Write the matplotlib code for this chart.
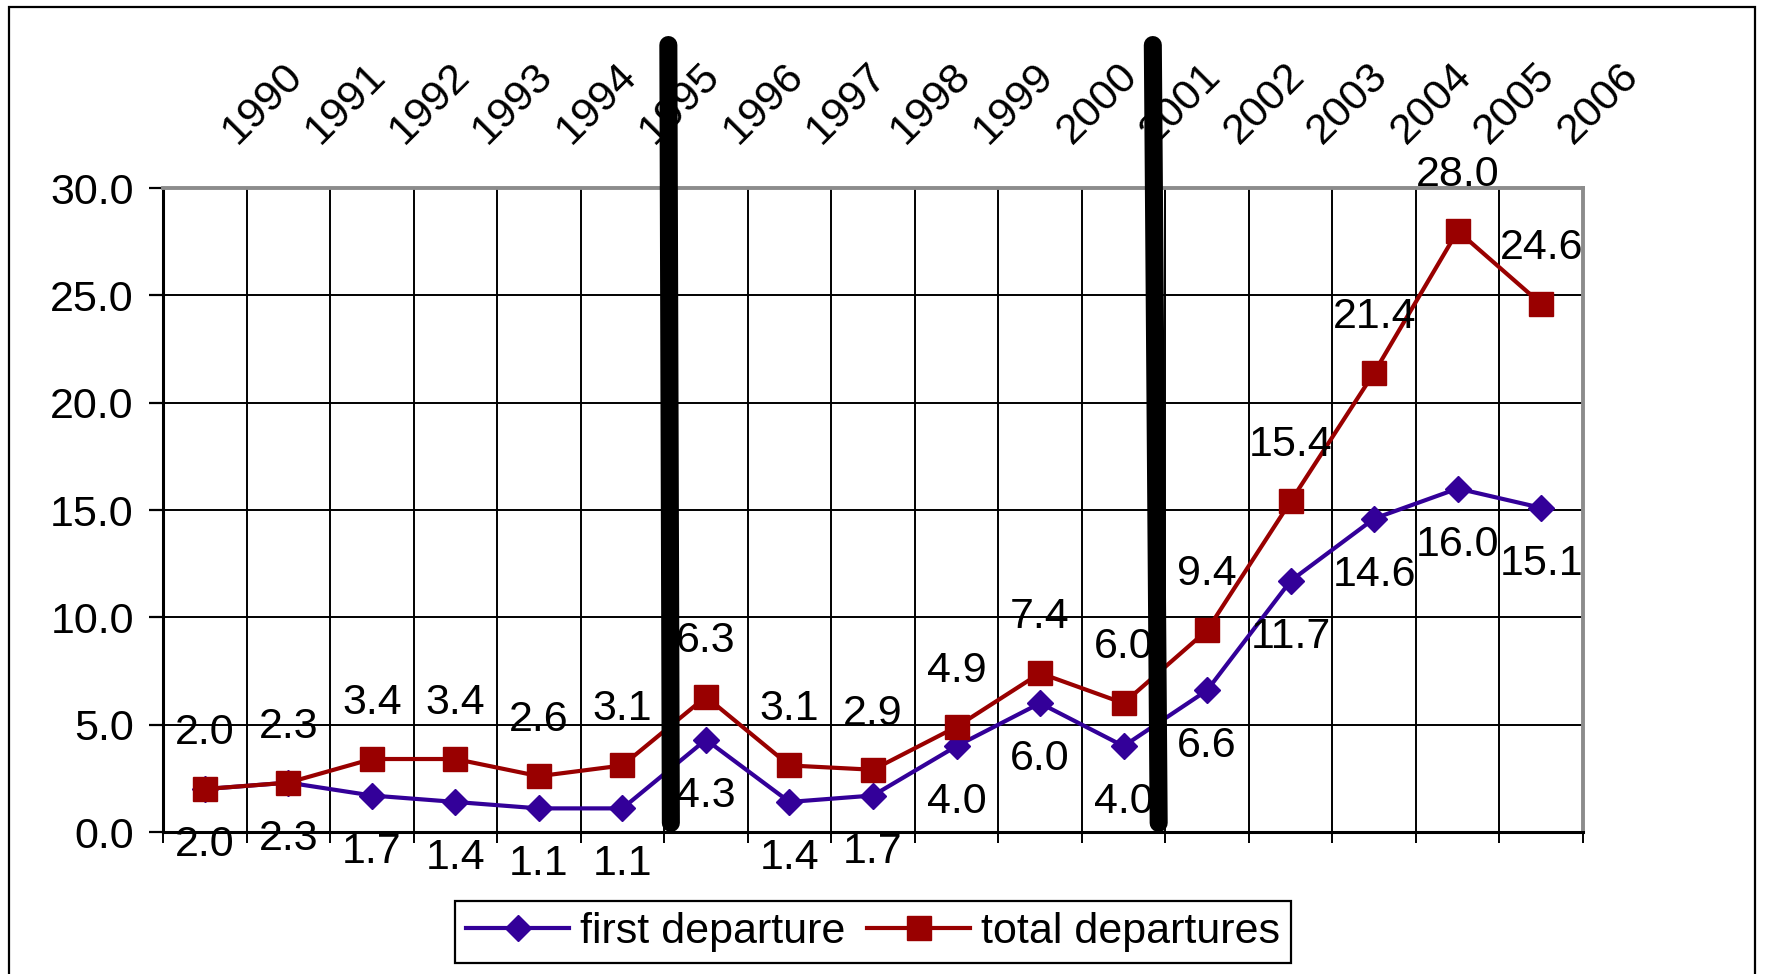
import matplotlib
matplotlib.use("Agg")
import matplotlib.pyplot as plt
import matplotlib.patches as mpatches
import numpy as np

plt.rcParams["font.family"] = ["Liberation Sans", "DejaVu Sans"]

years = [str(y) for y in range(1990, 2007)]
first_departure = [2.0, 2.3, 1.7, 1.4, 1.1, 1.1, 4.3, 1.4, 1.7, 4.0, 6.0, 4.0, 6.6, 11.7, 14.6, 16.0, 15.1]
total_departures = [2.0, 2.3, 3.4, 3.4, 2.6, 3.1, 6.3, 3.1, 2.9, 4.9, 7.4, 6.0, 9.4, 15.4, 21.4, 28.0, 24.6]

BLUE = "#330099"
RED = "#990000"
FS = 31

W, H = 1767, 974
fig = plt.figure(figsize=(W / 100, H / 100), dpi=100)
ax = fig.add_axes([163 / W, 1 - 832 / H, (1583 - 163) / W, (832 - 188) / H])

x = np.arange(len(years))

ax.plot(x, first_departure, color=BLUE, lw=3, marker="D", ms=13.5,
        label="first departure", zorder=3)
ax.plot(x, total_departures, color=RED, lw=3, marker="s", ms=17,
        label="total departures", zorder=3)

# value labels: totals above, first departures below
for xi, v in zip(x, total_departures):
    ax.annotate(f"{v:.1f}", (xi, v), xytext=(0, 56), textcoords="offset pixels",
                ha="center", va="center", fontsize=FS, zorder=4)
for xi, v in zip(x, first_departure):
    ax.annotate(f"{v:.1f}", (xi, v), xytext=(0, -56), textcoords="offset pixels",
                ha="center", va="center", fontsize=FS, zorder=4)

# year labels along the top
top = ax.get_xaxis_transform()
for xi, yr in zip(x, years):
    ax.text(xi + 0.69, 1.132, yr, transform=top, rotation=45,
            ha="center", va="center", fontsize=FS)

# period separators
for x0, x1 in [(5.55, 5.58), (11.35, 11.42)]:
    ax.plot([x0, x1], [1.222, 0.014], transform=top, color="black", lw=13,
            solid_capstyle="round", clip_on=False, zorder=6)

ax.set_xlim(-0.5, len(years) - 0.5)
ax.set_ylim(0, 30)
ax.set_xticks(np.arange(-0.5, len(years), 1.0))
ax.set_xticklabels([])
ax.set_yticks(np.arange(0, 31, 5))
ax.set_yticklabels([f"{v:.1f}" for v in np.arange(0, 31, 5)], fontsize=FS)
ax.tick_params(axis="x", direction="out", length=8, width=1.4, color="black")
ax.tick_params(axis="y", direction="out", length=10, width=1.6, pad=11)
ax.grid(True, color="black", lw=1.4)
ax.set_axisbelow(True)
for side in ["left", "bottom"]:
    ax.spines[side].set_color("black")
    ax.spines[side].set_linewidth(2.2)
for side in ["top", "right"]:
    ax.spines[side].set_color("#8c8c8c")
    ax.spines[side].set_linewidth(2.8)

leg = fig.legend(loc="center", bbox_to_anchor=(873 / W, 1 - 932 / H), ncol=2,
                 fontsize=FS, frameon=True, fancybox=False, framealpha=1,
                 edgecolor="black", handlelength=2.4, handletextpad=0.25,
                 columnspacing=0.5, borderpad=0.25)
leg.get_frame().set_linewidth(1.6)

# outer chart frame
fig.add_artist(mpatches.Rectangle((9 / W, -0.05), (1755 - 9) / W, 1.05 - 7 / H,
                                  transform=fig.transFigure, fill=False,
                                  edgecolor="black", lw=1.6))

fig.savefig("out.png", dpi=100)
